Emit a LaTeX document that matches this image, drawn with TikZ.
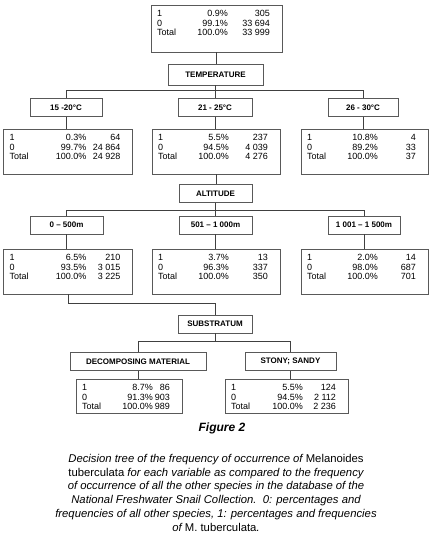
\documentclass[tikz,border=0pt]{standalone}
\usepackage{fontspec}
\setmainfont{Liberation Sans}
\usetikzlibrary{positioning, calc}

% label, percentage, count, right edge of the percentages, box width
\newcommand{\freqrow}[5]{\makebox[26pt][l]{#1}\makebox[\dimexpr#4-32pt\relax][r]{#2}\makebox[\dimexpr#5-#4-12pt\relax][r]{#3}}
% width, height, right edge of the percentages, then percentage and count for 1, 0 and Total
\newcommand{\freqtab}[9]{%
  \parbox[c][#2][t]{#1}{\fontsize{9}{9.6}\selectfont\leftskip=6pt\vspace*{5.5pt}%
    \freqrow{1}{#4}{#5}{#3}{#1}\\
    \freqrow{0}{#6}{#7}{#3}{#1}\\
    \freqrow{Total}{#8}{#9}{#3}{#1}}}

\begin{document}
\begin{tikzpicture}[x=1pt, y=-1pt,
  freqbox/.style={rectangle, draw=black!65, line width=0.8pt, inner sep=0pt},
  varbox/.style={rectangle, draw=black!65, line width=0.8pt, inner sep=0pt,
    minimum height=18pt, font=\fontsize{8}{9}\selectfont\bfseries},
  link/.style={draw=black!75, line width=1pt}
]
\useasboundingbox (0,0) rectangle (433,547);

% root
\node[freqbox] (root) at (216.5,28.5) {\freqtab{131pt}{47pt}{77pt}{0.9\%}{305}{99.1\%}{33~694}{100.0\%}{33~999}};
\node[varbox, minimum width=95pt, minimum height=21pt] (temp) at (215.5,74.5) {TEMPERATURE};

% temperature
\node[varbox, minimum width=72pt] (t1) at (66,107.5) {15 -20°C};
\node[varbox, minimum width=74pt] (t2) at (215,107.5) {21 - 25°C};
\node[varbox, minimum width=70pt] (t3) at (363,107.5) {26 - 30°C};
\node[freqbox] (t1f) at (68,151.5) {\freqtab{129pt}{45pt}{83pt}{0.3\%}{64}{99.7\%}{24~864}{100.0\%}{24~928}};
\node[freqbox] (t2f) at (216,151.5) {\freqtab{128pt}{45pt}{77pt}{5.5\%}{237}{94.5\%}{4~039}{100.0\%}{4~276}};
\node[freqbox] (t3f) at (364.5,151.5) {\freqtab{127pt}{45pt}{77pt}{10.8\%}{4}{89.2\%}{33}{100.0\%}{37}};

% altitude
\node[varbox, minimum width=73pt] (alt) at (215.5,193.5) {ALTITUDE};
\node[varbox, minimum width=73pt] (a1) at (66.5,225) {0 – 500m};
\node[varbox, minimum width=73pt] (a2) at (215.5,225) {501 – 1 000m};
\node[varbox, minimum width=72pt] (a3) at (364,225) {1 001 – 1 500m};
\node[freqbox] (a1f) at (68,271.5) {\freqtab{129pt}{45pt}{83pt}{6.5\%}{210}{93.5\%}{3~015}{100.0\%}{3~225}};
\node[freqbox] (a2f) at (216,271.5) {\freqtab{128pt}{45pt}{77pt}{3.7\%}{13}{96.3\%}{337}{100.0\%}{350}};
\node[freqbox] (a3f) at (364.5,271.5) {\freqtab{127pt}{45pt}{77pt}{2.0\%}{14}{98.0\%}{687}{100.0\%}{701}};

% substratum
\node[varbox, minimum width=74pt] (sub) at (215,324) {SUBSTRATUM};
\node[varbox, minimum width=136pt] (s1) at (138,361.5) {DECOMPOSING MATERIAL};
\node[varbox, minimum width=91pt] (s2) at (290.5,361.5) {STONY; SANDY};
\node[freqbox] (s1f) at (129,396) {\freqtab{106pt}{34pt}{77pt}{8.7\%}{86}{91.3\%}{903}{100.0\%}{989}};
\node[freqbox] (s2f) at (286.5,396) {\freqtab{123pt}{34pt}{78pt}{5.5\%}{124}{94.5\%}{2~112}{100.0\%}{2~236}};

% connectors
\draw[link] (root.south) -- (root.south |- temp.north);
\foreach \c in {t1,t2,t3} {
  \draw[link] (temp.south) -- ++(0,5) -| (\c.north);
  \draw[link] (\c.south) -- (\c.south |- \c f.north);
}
\draw[link] (t2f.south) -- (t2f.south |- alt.north);
\foreach \c in {a1,a2,a3} {
  \draw[link] (alt.south) -- ++(0,7.5) -| (\c.north);
  \draw[link] (\c.south) -- (\c.south |- \c f.north);
}
\draw[link] (a1f.south) -- ++(0,9) -| (sub.north);
\foreach \c in {s1,s2} {
  \draw[link] (sub.south) -- ++(0,8) -| (\c.north);
  \draw[link] (\c.south) -- (\c.south |- \c f.north);
}

% caption
\node (fig) at (222,428) {\fontsize{12}{14}\selectfont\bfseries\itshape Figure 2};
\node[anchor=north, align=center, inner sep=0pt, font=\fontsize{11.3}{13.8}\selectfont\itshape] (cap) at (216,454) {%
  Decision tree of the frequency of occurrence of {\upshape Melanoides}\\
  {\upshape tuberculata} for each variable as compared to the frequency\\
  of occurrence of all the other species in the database of the\\
  National Freshwater Snail Collection.\ \ 0: percentages and\\
  frequencies of all other species, 1: percentages and frequencies\\
  of {\upshape M. tuberculata}.};
\end{tikzpicture}
\end{document}
